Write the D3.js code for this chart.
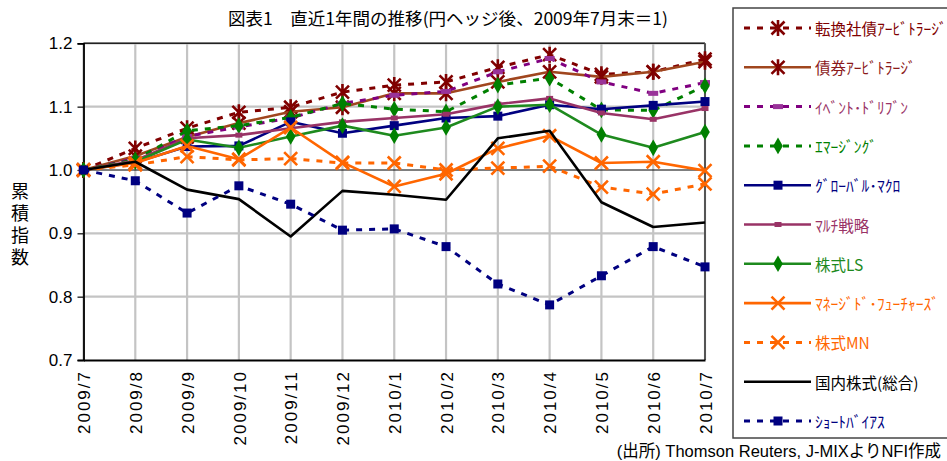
<!DOCTYPE html>
<html><head><meta charset="utf-8">
<script src="https://cdn.jsdelivr.net/npm/d3@7"></script>
<style>
body{margin:0;background:#fff;}
svg{display:block;}
</style></head>
<body><svg id="c" width="947" height="461"></svg>
<script>
const categories = ["2009/7","2009/8","2009/9","2009/10","2009/11","2009/12","2010/1","2010/2","2010/3","2010/4","2010/5","2010/6","2010/7"];
const yTicks = [0.7,0.8,0.9,1.0,1.1,1.2];
const seriesNames = ["転換社債ｱｰﾋﾞﾄﾗｰｼﾞ","債券ｱｰﾋﾞﾄﾗｰｼﾞ","ｲﾍﾞﾝﾄ･ﾄﾞﾘﾌﾞﾝ","ｴﾏｰｼﾞﾝｸﾞ","ｸﾞﾛｰﾊﾞﾙ･ﾏｸﾛ","ﾏﾙﾁ戦略","株式LS","ﾏﾈｰｼﾞﾄﾞ･ﾌｭｰﾁｬｰｽﾞ","株式MN","国内株式(総合)","ｼｮｰﾄﾊﾞｲｱｽ"];
const convertibleArb = [1.000,1.034,1.066,1.091,1.099,1.123,1.134,1.139,1.162,1.182,1.151,1.155,1.175];
const bondArb        = [1.000,1.022,1.052,1.074,1.092,1.099,1.121,1.121,1.139,1.155,1.147,1.155,1.171];
const eventDriven    = [1.000,1.018,1.053,1.068,1.082,1.105,1.118,1.124,1.155,1.176,1.139,1.121,1.138];
const emerging       = [1.000,1.016,1.062,1.070,1.083,1.105,1.096,1.092,1.134,1.145,1.095,1.094,1.133];
const globalMacro    = [1.000,1.012,1.037,1.038,1.076,1.058,1.070,1.082,1.085,1.103,1.096,1.102,1.108];
const multiStrategy  = [1.000,1.015,1.050,1.055,1.066,1.076,1.082,1.088,1.104,1.113,1.090,1.080,1.097];
const equityLS       = [1.000,1.013,1.048,1.035,1.053,1.070,1.054,1.067,1.100,1.103,1.056,1.035,1.060];
const managedFutures = [1.000,1.011,1.038,1.017,1.067,1.012,0.974,0.994,1.034,1.054,1.011,1.013,0.999];
const equityMN       = [1.000,1.008,1.021,1.016,1.018,1.011,1.011,1.000,1.003,1.006,0.973,0.962,0.978];
const domesticEquity = [1.000,1.013,0.969,0.954,0.895,0.967,0.961,0.953,1.050,1.062,0.949,0.910,0.917];
const shortBias      = [1.000,0.983,0.932,0.975,0.946,0.905,0.907,0.879,0.820,0.787,0.833,0.879,0.847];

const seriesValues = [convertibleArb,bondArb,eventDriven,emerging,globalMacro,multiStrategy,equityLS,managedFutures,equityMN,domesticEquity,shortBias];
const styles = [
  {line:"#800000", text:"#800000", dash:true,  marker:"star",    mcol:"#800000"},
  {line:"#A0461E", text:"#8B1A1A", dash:false, marker:"star",    mcol:"#800000"},
  {line:"#800080", text:"#993366", dash:true,  marker:"bar",     mcol:"#993399"},
  {line:"#008000", text:"#008000", dash:true,  marker:"diamond", mcol:"#008000"},
  {line:"#000080", text:"#000080", dash:false, marker:"square",  mcol:"#000080"},
  {line:"#993366", text:"#993366", dash:false, marker:"small",   mcol:"#993366"},
  {line:"#1E8A1E", text:"#1E8A1E", dash:false, marker:"diamond", mcol:"#008000"},
  {line:"#FF6600", text:"#FF6600", dash:false, marker:"x",       mcol:"#FF6600"},
  {line:"#FF6600", text:"#FF6600", dash:true,  marker:"x",       mcol:"#FF6600"},
  {line:"#000000", text:"#000000", dash:false, marker:"none",    mcol:"#000000"},
  {line:"#000080", text:"#000080", dash:true,  marker:"square",  mcol:"#000080"}
];

const svg = d3.select("#c");
const x = d3.scalePoint().domain(categories).range([83.5, 705]);
const y = d3.scaleLinear().domain([0.7,1.2]).range([360, 43.3]);
const L = 83.5, R = 705, T = y(1.2), B = y(0.7);

// gridlines
svg.append("g").selectAll("line").data(categories).join("line")
  .attr("x1", d=>x(d)).attr("x2", d=>x(d)).attr("y1", T).attr("y2", B)
  .attr("stroke","#c4c4c4").attr("stroke-width",2.2);
svg.append("g").selectAll("line").data(yTicks.filter(v=>v!==1.0 && v!==0.7)).join("line")
  .attr("x1", L).attr("x2", R).attr("y1", d=>y(d)).attr("y2", d=>y(d))
  .attr("stroke","#c4c4c4").attr("stroke-width",2.2);
// border
svg.append("line").attr("x1",L).attr("x2",R).attr("y1",T).attr("y2",T).attr("stroke","#222").attr("stroke-width",1.5);
svg.append("line").attr("x1",R).attr("x2",R).attr("y1",T).attr("y2",B).attr("stroke","#555").attr("stroke-width",2);
svg.append("line").attr("x1",L).attr("x2",R).attr("y1",y(1.0)).attr("y2",y(1.0)).attr("stroke","#000").attr("stroke-width",1.2);

// axes
const yAxis = d3.axisLeft(y).tickValues(yTicks).tickFormat(d3.format(".1f")).tickSize(6).tickPadding(5);
const gy = svg.append("g").attr("transform",`translate(${L},0)`).call(yAxis);
gy.select(".domain").attr("stroke","#000").attr("stroke-width",1.8);
gy.selectAll(".tick line").attr("stroke","#000").attr("stroke-width",1.2);
gy.selectAll("text").attr("font-family","'Liberation Sans',Arial,sans-serif").attr("font-size",17).attr("fill","#000");

const xAxis = d3.axisBottom(x).tickSize(0).tickPadding(0);
const gx = svg.append("g").attr("transform",`translate(0,${B})`).call(xAxis);
gx.select(".domain").attr("stroke","#000").attr("stroke-width",1.8);
gx.selectAll("text")
  .attr("font-family","'Liberation Sans',Arial,sans-serif").attr("font-size",17).attr("fill","#000")
  .attr("letter-spacing","2px")
  .attr("text-anchor","end").attr("dy","0.36em").attr("y",0)
  .attr("transform","translate(0,10) rotate(-90)");

// markers
function drawMarker(g, type, col, cx, cy){
  if(type==="star"){
    const r=6.5;
    g.append("path").attr("d",`M${cx-r},${cy-r}L${cx+r},${cy+r}M${cx-r},${cy+r}L${cx+r},${cy-r}M${cx},${cy-r-1.5}L${cx},${cy+r+1.5}`)
     .attr("stroke",col).attr("stroke-width",2.6).attr("fill","none");
  } else if(type==="x"){
    const r=6.5;
    g.append("path").attr("d",`M${cx-r},${cy-r}L${cx+r},${cy+r}M${cx-r},${cy+r}L${cx+r},${cy-r}`)
     .attr("stroke",col).attr("stroke-width",2.6).attr("fill","none");
  } else if(type==="square"){
    g.append("rect").attr("x",cx-4.5).attr("y",cy-4.5).attr("width",9).attr("height",9).attr("fill",col);
  } else if(type==="diamond"){
    g.append("path").attr("d",d3.symbol(d3.symbolDiamond,80)()).attr("transform",`translate(${cx},${cy})`).attr("fill",col);
  } else if(type==="bar"){
    g.append("rect").attr("x",cx-5).attr("y",cy-2.5).attr("width",10).attr("height",5).attr("fill",col);
  } else if(type==="small"){
    g.append("rect").attr("x",cx-3.5).attr("y",cy-2.5).attr("width",7).attr("height",5).attr("fill",col);
  }
}

const line = d3.line().x((d,i)=>x(categories[i])).y(d=>y(d));
seriesValues.forEach((vals,si)=>{
  const st = styles[si];
  const g = svg.append("g");
  g.append("path").attr("d",line(vals)).attr("fill","none").attr("stroke",st.line)
   .attr("stroke-width", st.dash?3:2.6).attr("stroke-dasharray", st.dash?"6,7":null)
   .attr("stroke-linejoin","round");
  vals.forEach((v,i)=>drawMarker(g, st.marker, st.mcol, x(categories[i]), y(v)));
});

// title
svg.append("text").attr("x",448).attr("y",25).attr("text-anchor","middle")
  .attr("font-family","'Noto Sans CJK JP',sans-serif").attr("font-size",17)
  .attr("textLength",440).attr("lengthAdjust","spacingAndGlyphs")
  .text("図表1　直近1年間の推移(円ヘッジ後、2009年7月末＝1)");

// y label (vertical)
svg.append("text").attr("x",20).attr("y",182)
  .attr("writing-mode","tb").style("text-orientation","upright")
  .attr("letter-spacing","4px")
  .attr("font-family","'Noto Sans CJK JP',sans-serif").attr("font-size",18).text("累積指数");

// source
svg.append("text").attr("x",941).attr("y",457).attr("text-anchor","end")
  .attr("font-family","'Liberation Sans',Arial,'Noto Sans CJK JP',sans-serif").attr("font-size",16.5)
  .text("(出所) Thomson Reuters, J-MIXよりNFI作成");

// legend
svg.append("rect").attr("x",733).attr("y",8).attr("width",230).attr("height",430)
  .attr("fill","none").attr("stroke","#444").attr("stroke-width",1.5);
const legY = d3.scaleLinear().domain([0,10]).range([28,421]);
seriesNames.forEach((name,si)=>{
  const st = styles[si];
  const cy = legY(si);
  const g = svg.append("g");
  g.append("line").attr("x1",744).attr("x2",811).attr("y1",cy).attr("y2",cy)
    .attr("stroke",st.line).attr("stroke-width",st.dash?3:2.6).attr("stroke-dasharray",st.dash?"6,7":null);
  drawMarker(g, st.marker, st.mcol, 778, cy);
  g.append("text").attr("x",815).attr("y",cy).attr("dominant-baseline","central")
    .attr("font-family","'Noto Sans CJK JP',sans-serif").attr("font-size",15.5).attr("fill",st.text).text(name);
});
</script></body></html>
